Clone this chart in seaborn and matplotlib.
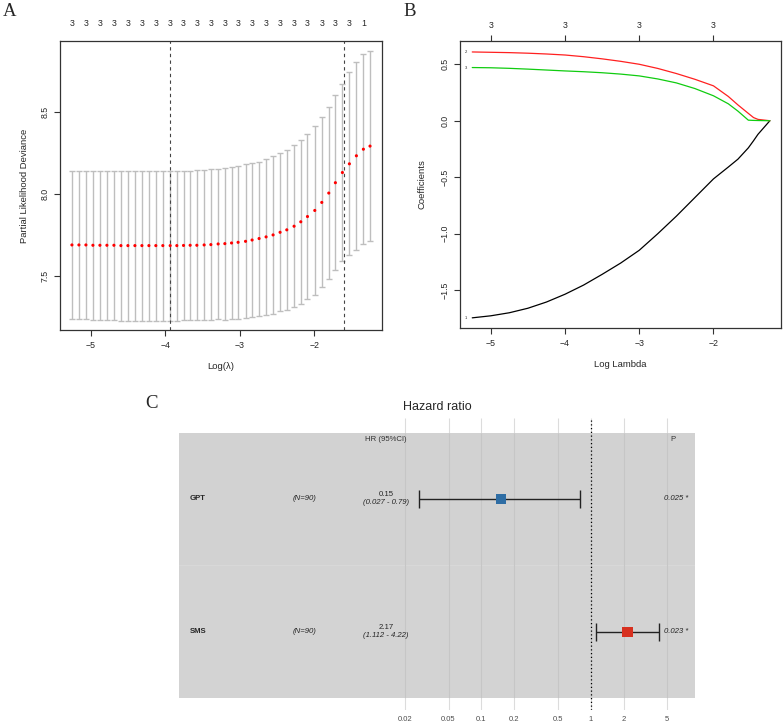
import numpy as np
import pandas as pd
import seaborn as sns
import matplotlib.pyplot as plt
from matplotlib.transforms import blended_transform_factory

W, H = 783, 724

# ---- panel A: cross-validation curve ----
log_lambda = [-5.255, -5.161, -5.067, -4.973, -4.879, -4.785, -4.691, -4.597, -4.503, -4.409,
              -4.315, -4.221, -4.128, -4.034, -3.935, -3.846, -3.756, -3.667, -3.577, -3.479,
              -3.389, -3.291, -3.201, -3.111, -3.023, -2.923, -2.835, -2.741, -2.647, -2.553,
              -2.459, -2.369, -2.271, -2.181, -2.091, -1.993, -1.899, -1.805, -1.716, -1.622,
              -1.528, -1.434, -1.340, -1.251]
cv_mean = [7.688, 7.688, 7.688, 7.686, 7.686, 7.686, 7.686, 7.684, 7.684, 7.684,
           7.684, 7.684, 7.684, 7.684, 7.684, 7.684, 7.685, 7.686, 7.686, 7.688,
           7.690, 7.694, 7.696, 7.700, 7.704, 7.710, 7.718, 7.727, 7.737, 7.749,
           7.765, 7.780, 7.802, 7.829, 7.861, 7.898, 7.947, 8.004, 8.067, 8.129,
           8.182, 8.231, 8.271, 8.290]
cv_sd = [0.453, 0.453, 0.453, 0.455, 0.455, 0.455, 0.455, 0.457, 0.457, 0.457,
         0.457, 0.457, 0.457, 0.457, 0.457, 0.457, 0.456, 0.455, 0.457, 0.457,
         0.459, 0.459, 0.463, 0.465, 0.467, 0.468, 0.468, 0.469, 0.475, 0.480,
         0.482, 0.489, 0.492, 0.498, 0.502, 0.512, 0.518, 0.523, 0.533, 0.540,
         0.557, 0.573, 0.580, 0.577]
n_nonzero = [3] * 41 + [2, 1, 0]
lambda_min = -3.94
lambda_1se = -1.60

# ---- panel B: coefficient paths ----
path_x = [-5.25, -5.0, -4.75, -4.5, -4.25, -4.0, -3.75, -3.5, -3.25, -3.0, -2.75, -2.5,
          -2.25, -2.0, -1.8, -1.67, -1.53, -1.46, -1.40, -1.24]
coef_1 = [-1.745, -1.727, -1.700, -1.660, -1.605, -1.536, -1.455, -1.360, -1.260, -1.147,
          -1.000, -0.845, -0.680, -0.515, -0.410, -0.340, -0.240, -0.177, -0.120, 0.0]
coef_2 = [0.609, 0.606, 0.603, 0.598, 0.591, 0.582, 0.567, 0.548, 0.526, 0.500,
          0.463, 0.418, 0.367, 0.309, 0.215, 0.140, 0.065, 0.028, 0.012, 0.0]
coef_3 = [0.471, 0.469, 0.464, 0.457, 0.449, 0.441, 0.434, 0.425, 0.413, 0.397,
          0.370, 0.335, 0.285, 0.221, 0.150, 0.085, 0.005, 0.003, 0.002, 0.0]
top_df_at = [-5, -4, -3, -2]
top_df = [3, 3, 3, 3]

# ---- panel C: forest plot ----
variables = ["GPT", "SMS"]
n_obs = [90, 90]
hr = [0.15, 2.17]
hr_low = [0.027, 1.112]
hr_high = [0.79, 4.22]
hr_lab = ["0.15", "2.17"]
ci_lab = ["(0.027 - 0.79)", "(1.112 - 4.22)"]
p_lab = ["0.025 *", "0.023 *"]
breaks = [0.02, 0.05, 0.1, 0.2, 0.5, 1, 2, 5]

sns.set_style("white")
plt.rcParams['font.family'] = ['Liberation Sans', 'DejaVu Sans']

fig = plt.figure(figsize=(W / 100, H / 100), dpi=100)


def px_axes(l, t, r, b):
    return fig.add_axes([l / W, 1 - b / H, (r - l) / W, (b - t) / H])


def r_style(ax):
    for s in ax.spines.values():
        s.set_color('#333333')
        s.set_linewidth(0.9)
        s.set_visible(True)
    ax.tick_params(direction='out', length=4.3, width=0.8, color='#333333',
                   labelsize=6.3, pad=3.5, bottom=True, left=True)
    for t in ax.get_yticklabels():
        t.set_rotation(90)
        t.set_va('center')


# A
axA = px_axes(60, 41, 382, 330)
axA.errorbar(log_lambda, cv_mean, yerr=cv_sd, fmt='none', ecolor='#BEBEBE',
             elinewidth=1, capsize=2.4, capthick=1, zorder=1)
sns.scatterplot(x=log_lambda, y=cv_mean, ax=axA, color='red', s=5,
                edgecolor='none', zorder=3)
for v in (lambda_min, lambda_1se):
    axA.axvline(v, ls=(0, (3, 3)), color='#444444', lw=0.8, zorder=2)
axA.set_xlim(-5.415, -1.09)
axA.set_ylim(7.17, 8.93)
axA.set_xticks([-5, -4, -3, -2], ['\u22125', '\u22124', '\u22123', '\u22122'])
axA.set_yticks([7.5, 8.0, 8.5], ['7.5', '8.0', '8.5'])
r_style(axA)
axA.set_xlabel("Log(\u03bb)", fontsize=6.8, labelpad=9)
axA.set_ylabel("Partial Likelihood Deviance", fontsize=6.8, labelpad=8)
secA = axA.secondary_xaxis('top')
secA.set_xticks(log_lambda[::2], [str(n) for n in n_nonzero[::2]])
secA.tick_params(length=0, labelsize=6.3, pad=9)
secA.spines['top'].set_visible(False)

# B
axB = px_axes(460, 41, 781, 328)
paths = pd.DataFrame({
    "x": path_x * 3,
    "coef": coef_1 + coef_2 + coef_3,
    "var": ["1"] * len(path_x) + ["2"] * len(path_x) + ["3"] * len(path_x),
})
sns.lineplot(data=paths, x="x", y="coef", hue="var", ax=axB, estimator=None,
             sort=False, legend=False, lw=0.9,
             palette={"1": "black", "2": "#FF2020", "3": "#10CC10"})
for lab, c in (("1", coef_1), ("2", coef_2), ("3", coef_3)):
    axB.text(-5.34, c[0], lab, fontsize=3, ha='center', va='center')
axB.set_xlim(-5.415, -1.09)
axB.set_ylim(-1.835, 0.706)
axB.set_xticks([-5, -4, -3, -2], ['\u22125', '\u22124', '\u22123', '\u22122'])
axB.set_yticks([-1.5, -1.0, -0.5, 0.0, 0.5],
               ['\u22121.5', '\u22121.0', '\u22120.5', '0.0', '0.5'])
r_style(axB)
axB.set_xlabel("Log Lambda", fontsize=6.8, labelpad=9)
axB.set_ylabel("Coefficients", fontsize=6.8, labelpad=10)
secB = axB.secondary_xaxis('top')
secB.set_xticks(top_df_at, [str(n) for n in top_df])
secB.tick_params(direction='out', length=4.3, width=0.8, color='#333333',
                 labelsize=6.3, pad=3.5)
secB.spines['top'].set_visible(False)

# C
axC = px_axes(179, 418, 695, 710)
axC.set_xscale('log')
x0, x1 = 1.71e-4, 8.99
axC.set_xlim(x0, x1)
axC.set_ylim(1.59, -0.61)
axC.axhspan(-0.5, 0.5, color='#D2D2D2', lw=0, zorder=0.5)
axC.axhspan(0.5, 1.5, color='#D3D3D3', lw=0, zorder=0.5)
axC.axhline(0.5, color='#DBDBDB', lw=0.5, zorder=0.6)
axC.vlines(breaks, -0.61, -0.5, color='#DCDCDC', lw=0.8, zorder=0.4)
axC.vlines(breaks, 1.5, 1.59, color='#DCDCDC', lw=0.8, zorder=0.4)
axC.vlines(breaks, -0.5, 1.5, color='#C6C6C6', lw=0.8, zorder=1)
axC.axvline(1, color='black', ls=(0, (1, 2)), lw=0.9, zorder=2)
rows = np.arange(len(variables))
hr_a = np.array(hr)
axC.errorbar(hr_a, rows, xerr=[hr_a - np.array(hr_low), np.array(hr_high) - hr_a],
             fmt='none', ecolor='#222222', elinewidth=1, capsize=6.8, capthick=1, zorder=3)
sns.scatterplot(x=hr, y=rows, hue=variables, palette=["#2E6DA4", "#D7301F"],
                marker='s', s=55, edgecolor='none', legend=False, ax=axC, zorder=4)
for s in axC.spines.values():
    s.set_visible(False)
axC.set_yticks([])
axC.set_xticks(breaks, [f"{b:g}" for b in breaks])
axC.minorticks_off()
axC.tick_params(axis='x', length=0, labelsize=5.5, labelcolor='#4D4D4D', pad=4)
axC.set_xlabel("")
axC.set_ylabel("")

tr = blended_transform_factory(axC.transAxes, axC.transData)
fs = 5.6
axC.text(0.401, -0.45, "HR (95%CI)", transform=tr, ha='center', va='center', fontsize=fs, color='#333333')
axC.text(0.958, -0.45, "P", transform=tr, ha='center', va='center', fontsize=fs, color='#333333')
for i in rows:
    axC.text(0.021, i, variables[i], transform=tr, ha='left', va='center', fontsize=fs, fontweight='bold')
    axC.text(0.244, i, f"(N={n_obs[i]})", transform=tr, ha='center', va='center', fontsize=fs, style='italic')
    axC.text(0.401, i - 0.032, hr_lab[i], transform=tr, ha='center', va='center', fontsize=fs)
    axC.text(0.401, i + 0.028, ci_lab[i], transform=tr, ha='center', va='center', fontsize=fs, style='italic')
    axC.text(0.963, i, p_lab[i], transform=tr, ha='center', va='center', fontsize=fs, style='italic')

fig.text(437 / W, 1 - 406.7 / H, "Hazard ratio", ha='center', va='center', fontsize=9)

for lab, x, y in (("A", 9.5, 11), ("B", 410, 11), ("C", 151, 403.5)):
    fig.text(x / W, 1 - y / H, lab, ha='center', va='center', fontsize=13.5,
             family='Liberation Serif')

fig.savefig("out.png", dpi=100)
